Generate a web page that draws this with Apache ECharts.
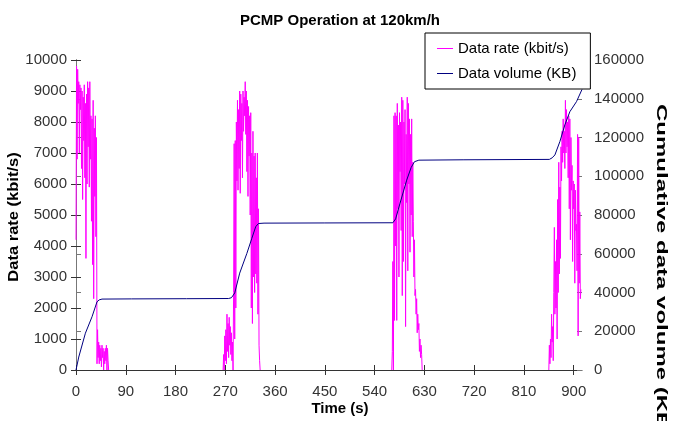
<!DOCTYPE html>
<html>
<head>
<meta charset="UTF-8">
<title>PCMP Operation at 120km/h</title>
<script src="https://cdn.jsdelivr.net/npm/echarts@6/dist/echarts.min.js"></script>
<style>
html, body { margin: 0; padding: 0; background: #fff; }
#chart { width: 680px; height: 421px; }
</style>
</head>
<body>
<div id="chart"></div>
<script>
// data rate bursts (kbit/s), one sample per second from the start time
const burst1Start = 0;
const burst1 = [4200, 9800, 6800, 9700, 8600, 9300, 7000, 9200, 8400, 9100,
  6500, 9000, 5500, 8800, 7400, 9200, 6200, 8600, 3600, 8900,
  6000, 9300, 7200, 9100, 5900, 9300, 6800, 8200, 4800, 8100,
  3400, 8700, 2300, 7800, 5600, 8200, 4300, 7500, 200, 1300,
  400, 900, 200, 800, 300, 700, 100, 800, 400, 700,
  0, 600, 200, 700, 300, 800, 0, 700, 300, 0];
const burst2Start = 266;
const burst2 = [0, 500, 0, 1100, 300, 1300, 200, 1800, 600, 1500,
  400, 1700, 800, 1400, 500, 1200, 300, 900, 0, 2500,
  7300, 1000, 7400, 2000, 8000, 6100, 8700, 5800, 8400, 6500,
  9000, 5700, 8900, 7400, 8600, 6200, 9000, 7700, 8800, 8200,
  9300, 7600, 9000, 6400, 8700, 5600, 8500, 6900, 8200, 5000,
  8300, 2000, 7000, 1500, 7700, 3000, 6900, 2500, 7000, 3100,
  6200, 2800, 7000, 1800, 5200, 800, 300, 0];
const burst3Start = 571;
const burst3 = [0, 600, 3500, 0, 8200, 1600, 8300, 4000, 8200, 1600,
  8600, 5200, 7900, 3000, 8300, 6400, 8000, 4500, 8800, 2400,
  8700, 3500, 8000, 6000, 8400, 1400, 7600, 5400, 8800, 3200,
  8600, 6000, 8100, 3800, 7600, 5000, 8100, 4300, 6700, 4800,
  3000, 4200, 2400, 2600, 1800, 2300, 1200, 1800, 1300, 1500,
  600, 1000, 400, 800, 500, 0];
const burst4Start = 855;
const burst4 = [0, 800, 200, 1000, 400, 1800, 900, 1400, 300, 2500,
  4600, 1800, 3500, 2000, 4200, 1000, 5500, 2500, 6700, 3100,
  5900, 3600, 7200, 6100, 7700, 6700, 8100, 7000, 7700, 6500,
  8700, 7000, 8400, 7200, 8000, 6200, 8200, 5200, 8100, 4200,
  7500, 5800, 6600, 3500, 6100, 5200, 6000, 2800, 5800, 4500,
  4700, 3200, 7600, 1100, 7500, 2800, 5100, 2300, 2600];

// cumulative data volume (KB)
const volTime = [0, 5, 17, 29, 38, 42, 47, 100, 200, 276, 281, 287, 296, 309, 318, 325, 330, 340,
  450, 573, 578, 586, 598, 606, 612, 620, 700, 856, 861, 866, 875, 884, 893, 905, 915];
const volume = [0, 6700, 19000, 27500, 35200, 36200, 36600, 36700, 36800, 36900, 37300, 39700,
  50000, 60200, 68000, 74000, 75600, 75800, 75900, 76000, 78000, 86100, 98000, 104500, 107500,
  108300, 108500, 108700, 109500, 111000, 117900, 126500, 133300, 138500, 144800];

const timeTicks = [0, 90, 180, 270, 360, 450, 540, 630, 720, 810, 900];

const font = "'Liberation Sans', Arial, sans-serif";
const rateName = 'Data rate (kbit/s)';
const volName = 'Data volume (KB)';

function burstData(start, values) {
  return values.map((v, i) => [start + i, v]);
}

const rateSeries = [[burst1Start, burst1], [burst2Start, burst2], [burst3Start, burst3], [burst4Start, burst4]]
  .map(b => ({
    name: rateName,
    type: 'line',
    xAxisIndex: 0,
    yAxisIndex: 0,
    symbol: 'none',
    lineStyle: { color: '#ff00ff', width: 1 },
    itemStyle: { color: '#ff00ff' },
    data: burstData(b[0], b[1])
  }));

const chart = echarts.init(document.getElementById('chart'));

const plain = v => String(v);
const baseLabel = { color: '#333', fontSize: 15, fontFamily: font, formatter: plain };

chart.setOption({
  animation: false,
  backgroundColor: '#fff',
  title: {
    text: 'PCMP Operation at 120km/h',
    left: 'center',
    top: 8,
    textStyle: { fontSize: 15, fontWeight: 'bold', color: '#000', fontFamily: font }
  },
  legend: {
    data: [rateName, volName],
    orient: 'vertical',
    left: 425,
    top: 33,
    padding: [8, 14, 8, 12],
    itemGap: 10,
    itemWidth: 16,
    itemHeight: 1,
    icon: 'rect',
    borderColor: '#000',
    borderWidth: 1,
    backgroundColor: '#fff',
    textStyle: { fontSize: 15, color: '#000', fontFamily: font }
  },
  grid: { left: 76, right: 98, top: 60, bottom: 51 },
  xAxis: [{
    type: 'value',
    min: 0,
    max: 915,
    splitLine: { show: false },
    axisLine: { lineStyle: { color: '#333' } },
    axisTick: { length: 5, lineStyle: { color: '#333' }, customValues: timeTicks },
    axisLabel: Object.assign({ margin: 14, customValues: timeTicks }, baseLabel)
  }, {
    type: 'value',
    min: 0,
    max: 915,
    position: 'bottom',
    splitLine: { show: false },
    axisLine: { show: false },
    axisTick: { inside: true, length: 5, lineStyle: { color: '#333' }, customValues: timeTicks },
    axisLabel: { show: false }
  }],
  yAxis: [{
    type: 'value',
    min: 0,
    max: 10000,
    interval: 1000,
    position: 'left',
    splitLine: { show: false },
    axisLine: { show: true, lineStyle: { color: '#333' } },
    axisTick: { show: true, length: 5, lineStyle: { color: '#333' } },
    axisLabel: Object.assign({ margin: 9 }, baseLabel)
  }, {
    type: 'value',
    min: 0,
    max: 160000,
    interval: 20000,
    position: 'right',
    splitLine: { show: false },
    axisLine: { show: true, lineStyle: { color: '#777' } },
    axisTick: { show: true, length: 5, lineStyle: { color: '#777' } },
    axisLabel: Object.assign({ margin: 12 }, baseLabel)
  }, {
    type: 'value',
    min: 0,
    max: 10000,
    interval: 1000,
    position: 'left',
    splitLine: { show: false },
    axisLine: { show: false },
    axisTick: { show: true, inside: true, length: 5, lineStyle: { color: '#333' } },
    axisLabel: { show: false }
  }, {
    type: 'value',
    min: 0,
    max: 160000,
    interval: 20000,
    position: 'right',
    splitLine: { show: false },
    axisLine: { show: false },
    axisTick: { show: true, inside: true, length: 5, lineStyle: { color: '#777' } },
    axisLabel: { show: false }
  }],
  graphic: [{
    type: 'text',
    left: 'center',
    top: 401,
    style: { text: 'Time (s)', fill: '#000', font: 'bold 15px ' + font }
  }, {
    type: 'text',
    x: 14,
    y: 217,
    rotation: Math.PI / 2,
    scaleX: 1.1,
    style: { text: 'Data rate (kbit/s)', font: 'bold 15px ' + font, fill: '#000', align: 'center', verticalAlign: 'middle' }
  }, {
    type: 'text',
    x: 661,
    y: 104,
    rotation: -Math.PI / 2,
    scaleX: 1.6,
    style: { text: 'Cumulative data volume (KB)', font: 'bold 15px ' + font, fill: '#000', align: 'left', verticalAlign: 'middle' }
  }],
  series: rateSeries.concat([{
    name: volName,
    type: 'line',
    xAxisIndex: 0,
    yAxisIndex: 1,
    symbol: 'none',
    lineStyle: { color: '#000080', width: 1 },
    itemStyle: { color: '#000080' },
    data: volTime.map((t, i) => [t, volume[i]])
  }])
});

window.addEventListener('resize', function() {
  chart.resize();
});
</script>
</body>
</html>
